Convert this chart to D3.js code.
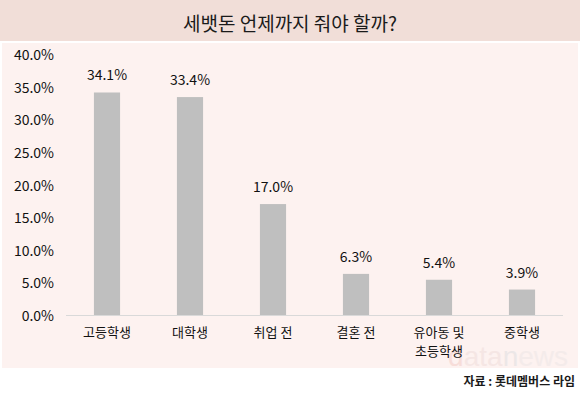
<!DOCTYPE html>
<html>
<head>
<meta charset="utf-8">
<script src="https://cdn.jsdelivr.net/npm/d3@7"></script>
<style>
  body { margin: 0; background: #fff; }
  svg { display: block; font-family: "Noto Sans CJK KR", "Noto Sans", sans-serif; }
</style>
</head>
<body>
<div id="chart"></div>
<script>
// data
var categories = [["고등학생"], ["대학생"], ["취업 전"], ["결혼 전"], ["유아동 및", "초등학생"], ["중학생"]];
var values = [34.1, 33.4, 17.0, 6.3, 5.4, 3.9];
var yTicks = [0, 5, 10, 15, 20, 25, 30, 35, 40];
var title = "세뱃돈 언제까지 줘야 할까?";
var source = "자료 : 롯데멤버스 라임";

var width = 580, height = 396;

var svg = d3.select('#chart').append('svg')
  .attr('width', width)
  .attr('height', height);

// backgrounds
svg.append('rect').attr('x', 0).attr('y', 0).attr('width', width).attr('height', 41)
  .attr('fill', '#f1ded8');
svg.append('rect').attr('x', 2).attr('y', 43).attr('width', width - 4).attr('height', 325)
  .attr('fill', '#fdf2f0');

svg.append('text')
  .attr('x', width / 2).attr('y', 22)
  .attr('text-anchor', 'middle').attr('dominant-baseline', 'central')
  .attr('font-size', 19).attr('fill', '#1a1a1a')
  .text(title);

var scaleX = d3.scaleBand()
  .domain(d3.range(values.length))
  .range([65.5, 563.5]);

var scaleY = d3.scaleLinear()
  .domain([0, 40])
  .range([315, 54]);

// watermark
var wm = svg.append('text')
  .attr('x', 568).attr('y', 366)
  .attr('text-anchor', 'end')
  .attr('font-family', 'Liberation Sans, sans-serif')
  .attr('font-size', 28)
  .attr('opacity', 0.5);
wm.append('tspan').attr('fill', '#f2c9c4').text('d');
wm.append('tspan').attr('fill', '#efdcda').text('ata');
wm.append('tspan').attr('fill', '#dcdde0').text('n');
wm.append('tspan').attr('fill', '#ece6e6').text('ews');

// y axis labels
svg.selectAll('.ytick')
  .data(yTicks)
  .enter()
  .append('text')
  .attr('class', 'ytick')
  .attr('x', 54)
  .attr('y', function(d) { return scaleY(d); })
  .attr('text-anchor', 'end')
  .attr('dominant-baseline', 'central')
  .attr('font-size', 14)
  .attr('fill', '#111')
  .text(function(d) { return d.toFixed(1) + '%'; });

// baseline
svg.append('line')
  .attr('x1', 66).attr('x2', 563)
  .attr('y1', scaleY(0) + 0.5).attr('y2', scaleY(0) + 0.5)
  .attr('stroke', '#d9d9d9').attr('stroke-width', 1);

var barW = scaleX.bandwidth() * 0.315;

svg.selectAll('.bar')
  .data(values)
  .enter()
  .append('rect')
  .attr('class', 'bar')
  .attr('x', function(d, i) { return scaleX(i) + scaleX.bandwidth() / 2 - barW / 2; })
  .attr('width', barW)
  .attr('y', function(d) { return scaleY(d); })
  .attr('height', function(d) { return scaleY(0) - scaleY(d); })
  .attr('fill', '#bfbfbf');

svg.selectAll('.val')
  .data(values)
  .enter()
  .append('text')
  .attr('class', 'val')
  .attr('x', function(d, i) { return scaleX(i) + scaleX.bandwidth() / 2; })
  .attr('y', function(d) { return scaleY(d) - 18; })
  .attr('text-anchor', 'middle')
  .attr('dominant-baseline', 'central')
  .attr('font-size', 14)
  .attr('fill', '#111')
  .text(function(d) { return d.toFixed(1) + '%'; });

// category labels
var cat = svg.selectAll('.cat')
  .data(categories)
  .enter()
  .append('text')
  .attr('class', 'cat')
  .attr('text-anchor', 'middle')
  .attr('font-size', 13)
  .attr('fill', '#111');

cat.selectAll('tspan')
  .data(function(d, i) { return d.map(function(s) { return { s: s, i: i }; }); })
  .enter()
  .append('tspan')
  .attr('x', function(d) { return scaleX(d.i) + scaleX.bandwidth() / 2; })
  .attr('y', function(d, j) { return 331 + j * 19; })
  .attr('dominant-baseline', 'central')
  .text(function(d) { return d.s; });

svg.append('text')
  .attr('x', 575).attr('y', 380)
  .attr('text-anchor', 'end')
  .attr('dominant-baseline', 'central')
  .attr('font-size', 12).attr('font-weight', 'bold')
  .attr('fill', '#1a1a1a')
  .text(source);
</script>
</body>
</html>
